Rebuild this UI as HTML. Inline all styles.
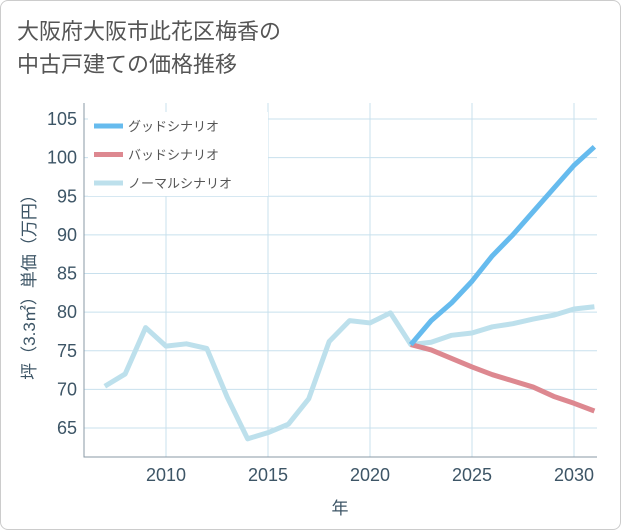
<!DOCTYPE html>
<html><head><meta charset="utf-8"><style>
body{margin:0;background:#fff;}
#wrap{position:relative;width:619px;height:528px;border:1px solid #ccc;border-radius:8px;background:#fff;overflow:hidden;font-family:"Liberation Sans","Noto Sans CJK JP",sans-serif;}
#title{position:absolute;left:16px;top:14px;font-size:22px;line-height:33px;color:#555;}
</style></head><body>
<div id="wrap">
<div id="title">大阪府大阪市此花区梅香の<br>中古戸建ての価格推移</div>
<svg id="chart" width="621" height="530" style="position:absolute;left:-1px;top:-1px"></svg>
</div>
<script>
const years=[2007,2008,2009,2010,2011,2012,2013,2014,2015,2016,2017,2018,2019,2020,2021,2022,2023,2024,2025,2026,2027,2028,2029,2030,2031];
const normal=[70.4,72,78,75.6,75.9,75.3,69,63.6,64.4,65.5,68.8,76.2,78.9,78.6,79.9,75.8,76.1,77,77.3,78.1,78.5,79.1,79.6,80.4,80.7];
const goodYears=[2022,2023,2024,2025,2026,2027,2028,2029,2030,2031];
const good=[75.8,78.9,81.2,84,87.3,90,93,96,99,101.4];
const bad=[75.8,75.1,74,72.9,71.9,71.1,70.3,69.1,68.2,67.2];
const xTicks=[2010,2015,2020,2025,2030];
const yTicks=[65,70,75,80,85,90,95,100,105];
const NS='http://www.w3.org/2000/svg';
const svg=document.getElementById('chart');
const L=84,R=597,T=103,B=457;
const x=v=>166+(v-2010)*20.4;
const y=v=>119+(105-v)*7.725;
function mk(t,a){const e=document.createElementNS(NS,t);for(const k in a)e.setAttribute(k,a[k]);svg.appendChild(e);return e;}
for(const t of xTicks){
 const g=mk('line',{x1:x(t),x2:x(t),y1:T,y2:B,stroke:'#c8e0ed','stroke-width':1});
 
 
 const tx=mk('text',{x:x(t),y:481,'text-anchor':'middle','font-size':18,fill:'#3d5566'});
 tx.textContent=t;
 
 
}
for(const t of yTicks){
 const g=mk('line',{x1:L,x2:R,y1:y(t),y2:y(t),stroke:'#c8e0ed','stroke-width':1});
 
 
 const tx=mk('text',{x:77,y:y(t)+6,'text-anchor':'end','font-size':18,fill:'#3d5566'});
 tx.textContent=t;
 
 
}
const ax=mk('path',{d:`M${L},${T}V${B}H${R}`,fill:'none',stroke:'#8899a6','stroke-width':1});


const lg=mk('rect',{x:88,y:112,width:180,height:84,fill:'#fff'});


function line(xs,ys,c,name){
 const p=mk('polyline',{points:xs.map((v,i)=>x(v)+','+y(ys[i])).join(' '),fill:'none',stroke:c,'stroke-width':5,'stroke-linejoin':'round'});
 
 
}
line(years,normal,'#bde0ec','normal-scenario-line');
line(goodYears,bad,'#dd8890','bad-scenario-line');
line(goodYears,good,'#66bbee','good-scenario-line');
const leg=[['グッドシナリオ','#66bbee'],['バッドシナリオ','#dd8890'],['ノーマルシナリオ','#bde0ec']];
leg.forEach((l,i)=>{
 const yy=126+i*28.5;
 const s=mk('line',{x1:94,x2:123,y1:yy,y2:yy,stroke:l[1],'stroke-width':5});
 
 
 const t=mk('text',{x:128,y:yy+5,'font-size':13,fill:'#555'});
 t.textContent=l[0];
 
 
});
const xt=mk('text',{x:340,y:514,'text-anchor':'middle','font-size':17,fill:'#3d5566'});
xt.textContent='年';


const yt=mk('text',{x:0,y:0,'text-anchor':'middle','font-size':17,fill:'#3d5566',transform:'translate(35,283) rotate(-90)'});
yt.textContent='坪（3.3㎡）単価（万円）';


</script>
</body></html>
